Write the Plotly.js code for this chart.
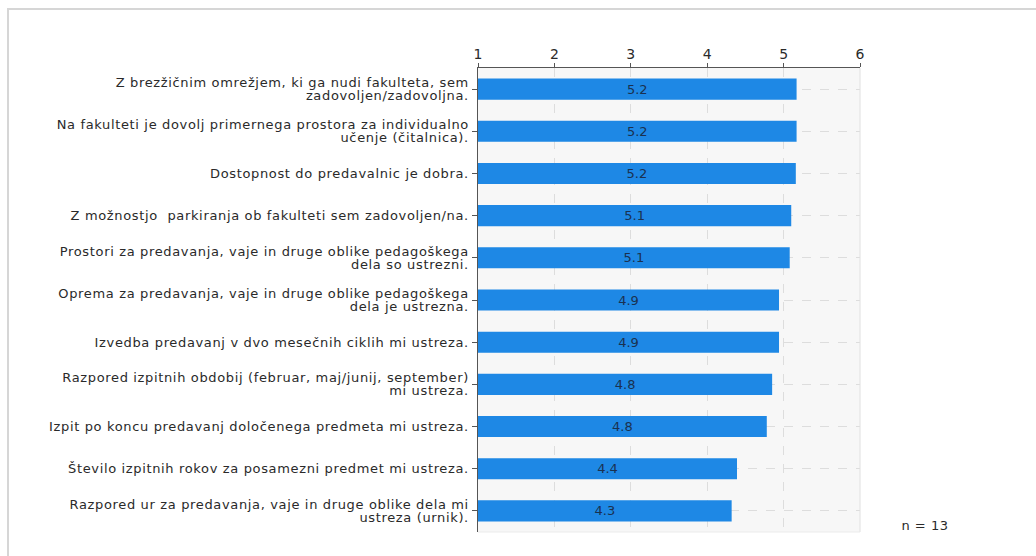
<!DOCTYPE html>
<html>
<head>
<meta charset="utf-8">
<script src="https://cdn.plot.ly/plotly-3.0.1.min.js"></script>
<style>
  html, body { margin: 0; padding: 0; background: #ffffff; }
  #wrap { position: relative; width: 1036px; height: 556px; overflow: hidden; }
  #chart { position: absolute; left: 0; top: 0; width: 1036px; height: 556px; }
  #frameTop { position: absolute; left: 7px; top: 8px; width: 1029px; height: 2px; background: #d6d6d6; }
  #frameLeft { position: absolute; left: 7px; top: 8px; width: 2px; height: 548px; background: #d6d6d6; }
  #chart .ytick text { letter-spacing: 0.65px; }
  #chart .annotation-text { letter-spacing: 0.5px; }
</style>
</head>
<body>
<div id="wrap">
  <div id="chart"></div>
  <div id="frameTop"></div>
  <div id="frameLeft"></div>
</div>
<script>
const categories = [
  "Z brezžičnim omrežjem, ki ga nudi fakulteta, sem<br>zadovoljen/zadovoljna.",
  "Na fakulteti je dovolj primernega prostora za individualno<br>učenje (čitalnica).",
  "Dostopnost do predavalnic je dobra.",
  "Z možnostjo  parkiranja ob fakulteti sem zadovoljen/na.",
  "Prostori za predavanja, vaje in druge oblike pedagoškega<br>dela so ustrezni.",
  "Oprema za predavanja, vaje in druge oblike pedagoškega<br>dela je ustrezna.",
  "Izvedba predavanj v dvo mesečnih ciklih mi ustreza.",
  "Razpored izpitnih obdobij (februar, maj/junij, september)<br>mi ustreza.",
  "Izpit po koncu predavanj določenega predmeta mi ustreza.",
  "Število izpitnih rokov za posamezni predmet mi ustreza.",
  "Razpored ur za predavanja, vaje in druge oblike dela mi<br>ustreza (urnik)."
];
const meanValues = [5.17, 5.17, 5.16, 5.10, 5.08, 4.94, 4.94, 4.85, 4.78, 4.39, 4.32];
const valueLabels = ["5.2", "5.2", "5.2", "5.1", "5.1", "4.9", "4.9", "4.8", "4.8", "4.4", "4.3"];
const scaleMin = 1;
const scaleMax = 6;
const tickValues = [1, 2, 3, 4, 5, 6];
const sampleNote = "n = 13";

const FONT = "DejaVu Sans, Verdana, sans-serif";

const trace = {
  type: "bar",
  orientation: "h",
  y: categories,
  base: scaleMin,
  x: meanValues.map(v => v - scaleMin),
  text: valueLabels,
  textposition: "inside",
  insidetextanchor: "middle",
  textangle: 0,
  constraintext: "none",
  textfont: { family: FONT, size: 13, color: "#1a3150" },
  marker: { color: "#1e88e5", line: { width: 0 } },
  hoverinfo: "none",
  cliponaxis: false
};

const layout = {
  width: 1036,
  height: 556,
  margin: { l: 478, r: 176, t: 68, b: 24, pad: 0 },
  paper_bgcolor: "#ffffff",
  plot_bgcolor: "#f7f7f7",
  bargap: 0.5,
  showlegend: false,
  font: { family: FONT, color: "#2a2a2a" },
  xaxis: {
    side: "top",
    range: [scaleMin, scaleMax],
    tickvals: tickValues,
    ticktext: tickValues.map(String),
    ticks: "outside",
    ticklen: 4,
    tickcolor: "#555555",
    tickfont: { size: 14, color: "#2a2a2a" },
    ticklabelstandoff: -2,
    showline: true,
    linecolor: "#555555",
    linewidth: 1.5,
    showgrid: true,
    gridcolor: "#dddddd",
    griddash: "dash",
    gridwidth: 1,
    zeroline: false,
    fixedrange: true
  },
  yaxis: {
    autorange: "reversed",
    ticks: "outside",
    ticklen: 5,
    tickcolor: "#555555",
    tickfont: { size: 13, color: "#2a2a2a" },
    showline: true,
    linecolor: "#555555",
    linewidth: 1.5,
    showgrid: true,
    gridcolor: "#dddddd",
    griddash: "dash",
    gridwidth: 1,
    zeroline: false,
    fixedrange: true
  },
  shapes: [
    { type: "line", xref: "paper", yref: "paper", x0: 1, x1: 1, y0: 0, y1: 1, line: { color: "#e0e0e0", width: 1 } },
    { type: "line", xref: "paper", yref: "paper", x0: 0, x1: 1, y0: 0, y1: 0, line: { color: "#ebebeb", width: 1 } }
  ],
  annotations: [
    { text: sampleNote, xref: "paper", yref: "paper", x: 1.108, y: 0.015, xanchor: "left", yanchor: "middle",
      showarrow: false, font: { size: 13, color: "#2a2a2a" } }
  ]
};

Plotly.newPlot("chart", [trace], layout, { displayModeBar: false, staticPlot: true }).then(gd => {
  // tighten the line spacing of two-line category labels
  const newSpacing = 1.0, oldSpacing = 1.3;
  gd.querySelectorAll(".ytick text").forEach(t => {
    const lines = t.querySelectorAll("tspan.line");
    const n = lines.length;
    if (n > 1) {
      const off = (n - 1) * (oldSpacing - newSpacing) / 2;
      lines.forEach((ln, i) => ln.setAttribute("dy", (i * newSpacing + off) + "em"));
    }
  });
});
</script>
</body>
</html>
